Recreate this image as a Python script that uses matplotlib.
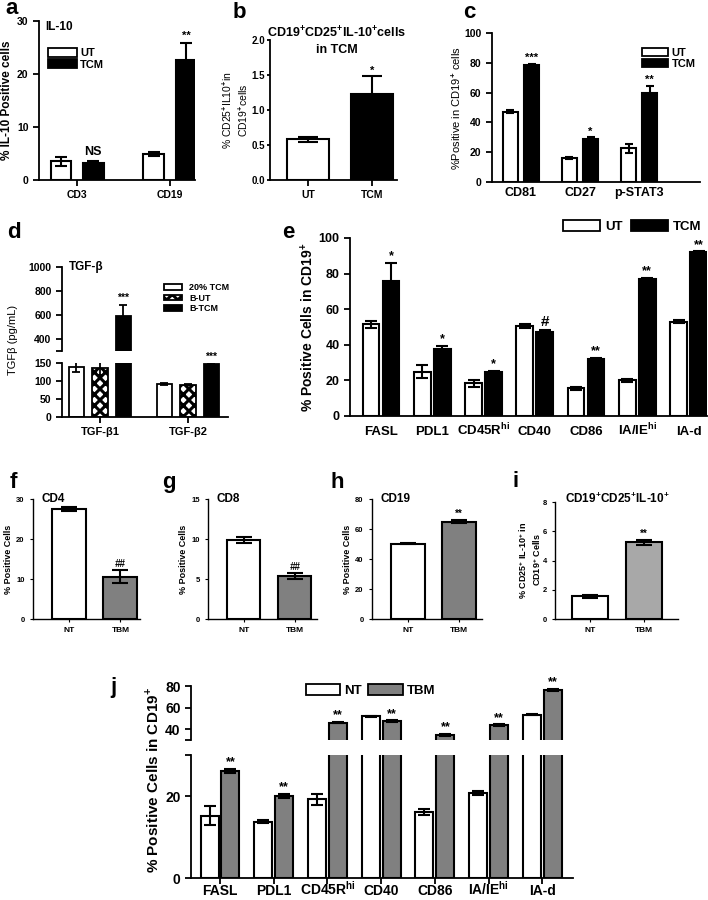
import numpy as np
import matplotlib
matplotlib.use("Agg")
import matplotlib.pyplot as plt
from matplotlib.patches import Patch

plt.rcParams['font.family'] = ['Liberation Sans', 'DejaVu Sans']
plt.rcParams['font.weight'] = 'bold'
plt.rcParams['axes.labelweight'] = 'bold'
plt.rcParams['hatch.linewidth'] = 2.2
plt.rcParams['axes.linewidth'] = 1.3
plt.rcParams['mathtext.fontset'] = 'custom'
plt.rcParams['mathtext.rm'] = 'Liberation Sans'

W, H = 708, 900

# ---- panel a ----
a_groups = ['CD3', 'CD19']
a_ut = [3.5, 4.9]
a_ut_err = [0.8, 0.4]
a_tcm = [3.2, 22.6]
a_tcm_err = [0.4, 3.3]
a_marks = ['NS', '**']

# ---- panel b ----
b_groups = ['UT', 'TCM']
b_vals = [0.58, 1.23]
b_errs = [0.04, 0.25]

# ---- panel c ----
c_groups = ['CD81', 'CD27', 'p-STAT3']
c_ut = [47, 16, 22.5]
c_ut_err = [1.0, 0.5, 3.0]
c_tcm = [78.5, 29, 59.5]
c_tcm_err = [0.8, 1.0, 5.0]
c_marks = ['***', '*', '**']

# ---- panel d ----
d_groups = ['TGF-β1', 'TGF-β2']
d_series = ['20% TCM', 'B-UT', 'B-TCM']
d_tcm20 = [140, 92]
d_tcm20_err = [15, 2]
d_but = [136, 90]
d_but_err = [20, 1]
d_btcm = [595, 148]
d_btcm_err = [85, 3]

# ---- panel e ----
e_groups = ['FASL', 'PDL1', 'CD45R$^{\\mathregular{hi}}$', 'CD40', 'CD86',
            'IA/IE$^{\\mathregular{hi}}$', 'IA-d']
e_ut = [51.5, 25, 18.5, 50.5, 15.5, 20, 53]
e_ut_err = [2.0, 3.5, 2.0, 1.0, 1.0, 0.8, 1.0]
e_tcm = [76, 37.5, 24.5, 47, 32, 77, 92]
e_tcm_err = [10, 2.0, 1.0, 1.5, 0.7, 0.7, 0.5]
e_marks = ['*', '*', '*', '#', '**', '**', '**']

# ---- panels f-i ----
fi_groups = ['NT', 'TBM']
f_vals = [27.5, 10.6]
f_errs = [0.6, 1.7]
g_vals = [9.9, 5.4]
g_errs = [0.4, 0.35]
h_vals = [50.3, 64.8]
h_errs = [0.5, 1.0]
i_vals = [1.55, 5.25]
i_errs = [0.08, 0.18]

# ---- panel j ----
j_groups = e_groups
j_nt = [15.2, 13.7, 19.2, 51.8, 16.1, 20.7, 53.6]
j_nt_err = [2.3, 0.4, 1.4, 0.8, 0.7, 0.4, 0.7]
j_tbm = [26, 20, 46.2, 47.3, 34.8, 43.8, 76.4]
j_tbm_err = [0.5, 0.5, 0.8, 1.0, 1.0, 0.8, 0.8]

fig = plt.figure(figsize=(W / 100, H / 100), dpi=100)


def px_axes(x0, y0, x1, y1):
    return fig.add_axes([x0 / W, 1 - y1 / H, (x1 - x0) / W, (y1 - y0) / H])


def ftext(x, y, s, **kw):
    fig.text(x / W, 1 - y / H, s, **kw)


def style(ax, ysize, xsize, lw=1.3):
    for side in ['top', 'right']:
        ax.spines[side].set_visible(False)
    for side in ['left', 'bottom']:
        ax.spines[side].set_linewidth(lw)
    ax.tick_params(axis='y', labelsize=ysize, width=lw, length=4)
    ax.tick_params(axis='x', labelsize=xsize, width=lw, length=4)
    for lab in ax.get_xticklabels() + ax.get_yticklabels():
        lab.set_fontweight('bold')


def bars(ax, x, vals, errs, width, color, hatch=None, cap=4, lw=1.5):
    ax.bar(x, vals, width, color=color, edgecolor='black', linewidth=lw,
           hatch=hatch, zorder=2)
    ax.errorbar(x, vals, yerr=errs, fmt='none', ecolor='black',
                elinewidth=lw, capsize=cap, capthick=lw, zorder=3)


def marks(ax, x, vals, errs, labels, pad, size, **kw):
    for xi, v, e, m in zip(x, vals, errs, labels):
        ax.text(xi, v + e + pad, m, ha='center', va='bottom',
                fontsize=size, fontweight='bold', **kw)


def panel_label(x, y, s):
    ftext(x, y, s, fontsize=16, fontweight='bold', va='center', ha='left')


# ================= a =================
ax = px_axes(39, 21, 195, 180)
xa = np.arange(len(a_groups))
bars(ax, xa - 0.175, a_ut, a_ut_err, 0.22, 'white')
bars(ax, xa + 0.175, a_tcm, a_tcm_err, 0.22, 'black')
ax.text(xa[0] + 0.175, a_tcm[0] + a_tcm_err[0] + 0.5, a_marks[0],
        ha='center', va='bottom', fontsize=9, fontweight='bold')
marks(ax, xa[1:] + 0.175, a_tcm[1:], a_tcm_err[1:], a_marks[1:], 0.3, 8)
ax.set_xlim(-0.41, 1.27)
ax.set_ylim(0, 30)
ax.set_yticks([0, 10, 20, 30])
ax.set_xticks(xa)
ax.set_xticklabels(a_groups)
style(ax, 7.5, 7.5)
ax.set_ylabel('% IL-10 Positive cells', fontsize=8.5, labelpad=3)
ax.text(0.04, 1.0, 'IL-10', transform=ax.transAxes, fontsize=8.5,
        fontweight='bold', va='top')
ax.legend(handles=[Patch(facecolor='white', edgecolor='black', lw=1.3, label='UT'),
                   Patch(facecolor='black', edgecolor='black', lw=1.3, label='TCM')],
          loc='upper left', bbox_to_anchor=(0.03, 0.86), frameon=False,
          fontsize=8, handlelength=2.6, handleheight=0.9,
          borderaxespad=0, labelspacing=0.1, handletextpad=0.3)
panel_label(5, 9, 'a')

# ================= b =================
ax = px_axes(270, 40, 397, 180)
xb = np.arange(len(b_groups))
bars(ax, xb, b_vals, b_errs, 0.66, ['white', 'black'], cap=7)
marks(ax, xb[1:], b_vals[1:], b_errs[1:], ['*'], 0.01, 8)
ax.set_xlim(-0.6, 1.39)
ax.set_ylim(0, 2.0)
ax.set_yticks([0.0, 0.5, 1.0, 1.5, 2.0])
ax.set_yticklabels(['0.0', '0.5', '1.0', '1.5', '2.0'])
ax.set_xticks(xb)
ax.set_xticklabels(b_groups)
style(ax, 7, 7.5)
ax.tick_params(axis='y', length=2, pad=1.5)
ftext(337, 33, 'CD19$^{+}$CD25$^{+}$IL-10$^{+}$cells', fontsize=9,
      fontweight='bold', ha='center', va='center')
ftext(337, 50, 'in TCM', fontsize=9, fontweight='bold', ha='center', va='center')
ftext(235, 110, '% CD25$^{+}$IL10$^{+}$in\nCD19$^{+}$cells', fontsize=7.5,
      rotation=90, ha='center', va='center', multialignment='center',
      fontweight='normal', linespacing=1.25)
panel_label(233, 12, 'b')

# ================= c =================
ax = px_axes(492, 33, 700, 182)
xc = np.arange(len(c_groups))
bars(ax, xc - 0.18, c_ut, c_ut_err, 0.25, 'white', cap=3)
bars(ax, xc + 0.18, c_tcm, c_tcm_err, 0.25, 'black', cap=3)
marks(ax, xc + 0.18, c_tcm, c_tcm_err, c_marks, 0.5, 8)
ax.set_xlim(-0.49, 3.03)
ax.set_ylim(0, 100)
ax.set_yticks(np.arange(0, 101, 20))
ax.set_xticks(xc)
ax.set_xticklabels(c_groups)
style(ax, 7.5, 9)
ax.tick_params(axis='x', length=0)
ax.set_ylabel('%Positive in CD19$^{+}$ cells', fontsize=8, fontweight='normal',
              labelpad=1)
ax.legend(handles=[Patch(facecolor='white', edgecolor='black', lw=1.3, label='UT'),
                   Patch(facecolor='black', edgecolor='black', lw=1.3, label='TCM')],
          loc='upper right', bbox_to_anchor=(1.0, 0.93), frameon=False,
          fontsize=8, handlelength=2.4, handleheight=0.8,
          borderaxespad=0, labelspacing=0.05, handletextpad=0.3)
panel_label(463, 12, 'c')

# ================= d (broken axis) =================
xd = np.arange(len(d_groups))
d_off = [-0.267, 0.0, 0.267]
d_vals = [d_tcm20, d_but, d_btcm]
d_errs = [d_tcm20_err, d_but_err, d_btcm_err]
d_colors = ['white', 'white', 'black']
d_hatch = [None, 'xxx', None]
ax_top = px_axes(62, 267, 228, 351)
ax_bot = px_axes(62, 363, 228, 417)
for a_ in (ax_top, ax_bot):
    for k in range(3):
        bars(a_, xd + d_off[k], d_vals[k], d_errs[k], 0.176,
             d_colors[k], hatch=d_hatch[k], cap=3, lw=1.3)
    a_.set_xlim(-0.43, 1.455)
ax_top.set_ylim(300, 1000)
ax_top.set_yticks([300, 400, 600, 800, 1000])
ax_top.set_yticklabels(['', '400', '600', '800', '1000'])
ax_top.set_xticks([])
ax_top.spines['bottom'].set_visible(False)
style(ax_top, 7.5, 7.5)
ax_top.text(xd[0] + d_off[2], d_btcm[0] + d_btcm_err[0] + 20, '***',
            ha='center', va='bottom', fontsize=7.5, fontweight='bold')
ax_bot.set_ylim(0, 150)
ax_bot.set_yticks([0, 50, 100, 150])
ax_bot.set_xticks(xd)
ax_bot.set_xticklabels(d_groups)
style(ax_bot, 7.5, 8)
ax_bot.text(xd[1] + d_off[2], d_btcm[1] + d_btcm_err[1] + 1, '***',
            ha='center', va='bottom', fontsize=7.5, fontweight='bold')
ax_top.text(0.04, 1.0, 'TGF-β', transform=ax_top.transAxes, fontsize=8.5,
            fontweight='bold', va='center')
ax_top.legend(handles=[Patch(facecolor='white', edgecolor='black', lw=1.3, label=d_series[0]),
                       Patch(facecolor='white', edgecolor='black', hatch='xxx', lw=1.3, label=d_series[1]),
                       Patch(facecolor='black', edgecolor='black', lw=1.3, label=d_series[2])],
              loc='upper right', bbox_to_anchor=(1.03, 0.85), frameon=False,
              fontsize=6.5, handlelength=2.0, handleheight=0.6,
              borderaxespad=0, labelspacing=0.15, handletextpad=0.8)
ftext(13, 340, 'TGFβ (pg/mL)', fontsize=8, rotation=90, ha='center',
      va='center', fontweight='normal')
panel_label(7, 233, 'd')

# ================= e =================
ax = px_axes(350, 238, 707, 416)
xe = np.arange(len(e_groups))
bars(ax, xe - 0.195, e_ut, e_ut_err, 0.33, 'white', cap=4)
bars(ax, xe + 0.195, e_tcm, e_tcm_err, 0.33, 'black', cap=4)
for xi, v, e, m in zip(xe + 0.195, e_tcm, e_tcm_err, e_marks):
    ax.text(xi, v + e + 0.3, m, ha='center', va='bottom',
            fontsize=11 if m == '#' else 9, fontweight='bold')
ax.set_xlim(-0.605, 6.36)
ax.set_ylim(0, 100)
ax.set_yticks(np.arange(0, 101, 20))
ax.set_xticks(xe)
ax.set_xticklabels(e_groups, va='baseline')
style(ax, 9, 9.5)
ax.tick_params(axis='x', length=0, pad=14)
ax.set_ylabel('% Positive Cells in CD19$^{+}$', fontsize=10, labelpad=2)
ax.legend(handles=[Patch(facecolor='white', edgecolor='black', lw=1.3, label='UT'),
                   Patch(facecolor='black', edgecolor='black', lw=1.3, label='TCM')],
          loc='lower right', bbox_to_anchor=(1.0, 1.0), frameon=False, ncol=2,
          fontsize=9.5, handlelength=2.8, handleheight=0.9, columnspacing=0.6,
          borderaxespad=0, handletextpad=0.4)
panel_label(282, 233, 'e')

# ================= f-i =================
def small_panel(box, vals, errs, ylim, yticks, title, mark, color, xlim,
                title_x=0.08):
    ax = px_axes(*box)
    x = np.arange(len(fi_groups))
    bars(ax, x, vals, errs, 0.66, ['white', color], cap=6, lw=1.5)
    ax.text(x[1], vals[1] + errs[1] + ylim * 0.01, mark, ha='center',
            va='bottom', fontsize=7, fontweight='bold',
            style='italic' if '#' in mark else 'normal')
    ax.set_xlim(*xlim)
    ax.set_ylim(0, ylim)
    ax.set_yticks(yticks)
    ax.set_xticks(x)
    ax.set_xticklabels(fi_groups)
    style(ax, 5.5, 6, lw=1.0)
    ax.tick_params(length=2.5, width=0.8)
    ax.text(title_x, 1.0, title, transform=ax.transAxes, fontsize=8.5,
            fontweight='bold', va='center')
    return ax


ax = small_panel((33, 499, 140, 619), f_vals, f_errs, 30, [0, 10, 20, 30],
                 'CD4', '##', '#808080', (-0.70, 1.38))
ax.set_ylabel('% Positive Cells', fontsize=6.5, labelpad=2)
panel_label(10, 483, 'f')

ax = small_panel((208, 499, 317, 619), g_vals, g_errs, 15, [0, 5, 10, 15],
                 'CD8', '##', '#808080', (-0.70, 1.44))
ax.set_ylabel('% Positive Cells', fontsize=6.5, labelpad=2)
panel_label(162, 483, 'g')

ax = small_panel((372, 499, 482, 619), h_vals, h_errs, 80, [0, 20, 40, 60, 80],
                 'CD19', '**', '#808080', (-0.71, 1.45))
ax.set_ylabel('% Positive Cells', fontsize=6.5, labelpad=2)
panel_label(331, 483, 'h')

ax = small_panel((555, 502, 678, 619), i_vals, i_errs, 8, [0, 2, 4, 6, 8],
                 '', '**', '#a8a8a8', (-0.65, 1.63))
ftext(617, 499, 'CD19$^{+}$CD25$^{+}$IL-10$^{+}$', fontsize=8.5,
      fontweight='bold', ha='center', va='center')
ftext(530, 560, '% CD25$^{+}$ IL-10$^{+}$ in\nCD19$^{+}$ Cells', fontsize=6.5,
      rotation=90, ha='center', va='center', multialignment='center',
      fontweight='bold', linespacing=1.3)
panel_label(512, 481, 'i')

# ================= j (broken axis) =================
xj = np.arange(len(j_groups))
ax_top = px_axes(191, 686, 573, 740)
ax_bot = px_axes(191, 755, 573, 878)
for a_ in (ax_top, ax_bot):
    bars(a_, xj - 0.195, j_nt, j_nt_err, 0.335, 'white', cap=4)
    bars(a_, xj + 0.195, j_tbm, j_tbm_err, 0.335, '#808080', cap=4)
    a_.set_xlim(-0.54, 6.57)
ax_top.set_ylim(30, 80)
ax_top.set_yticks([30, 40, 60, 80])
ax_top.set_yticklabels(['', '40', '60', '80'])
ax_top.set_xticks([])
ax_top.spines['bottom'].set_visible(False)
style(ax_top, 10, 10)
ax_bot.set_ylim(0, 30)
ax_bot.set_yticks([0, 20, 30])
ax_bot.set_yticklabels(['0', '20', ''])
ax_bot.set_xticks(xj)
ax_bot.set_xticklabels(j_groups, va='baseline')
style(ax_bot, 10, 10)
ax_bot.tick_params(axis='x', pad=8)
for xi, v, e in zip(xj + 0.195, j_tbm, j_tbm_err):
    target = ax_top if v > 30 else ax_bot
    target.text(xi, v + e + (0.5 if v > 30 else 0.3), '**', ha='center',
                va='bottom', fontsize=9, fontweight='bold')
ax_top.legend(handles=[Patch(facecolor='white', edgecolor='black', lw=1.3, label='NT'),
                       Patch(facecolor='#808080', edgecolor='black', lw=1.3, label='TBM')],
              loc='center', bbox_to_anchor=(0.47, 0.92), frameon=False, ncol=2,
              fontsize=9.5, handlelength=2.6, handleheight=0.9, columnspacing=0.5,
              borderaxespad=0, handletextpad=0.3)
ftext(152, 780, '% Positive Cells in CD19$^{+}$', fontsize=11, rotation=90,
      ha='center', va='center', fontweight='bold')
panel_label(110, 688, 'j')

fig.savefig('out.png', dpi=100, facecolor='white')
